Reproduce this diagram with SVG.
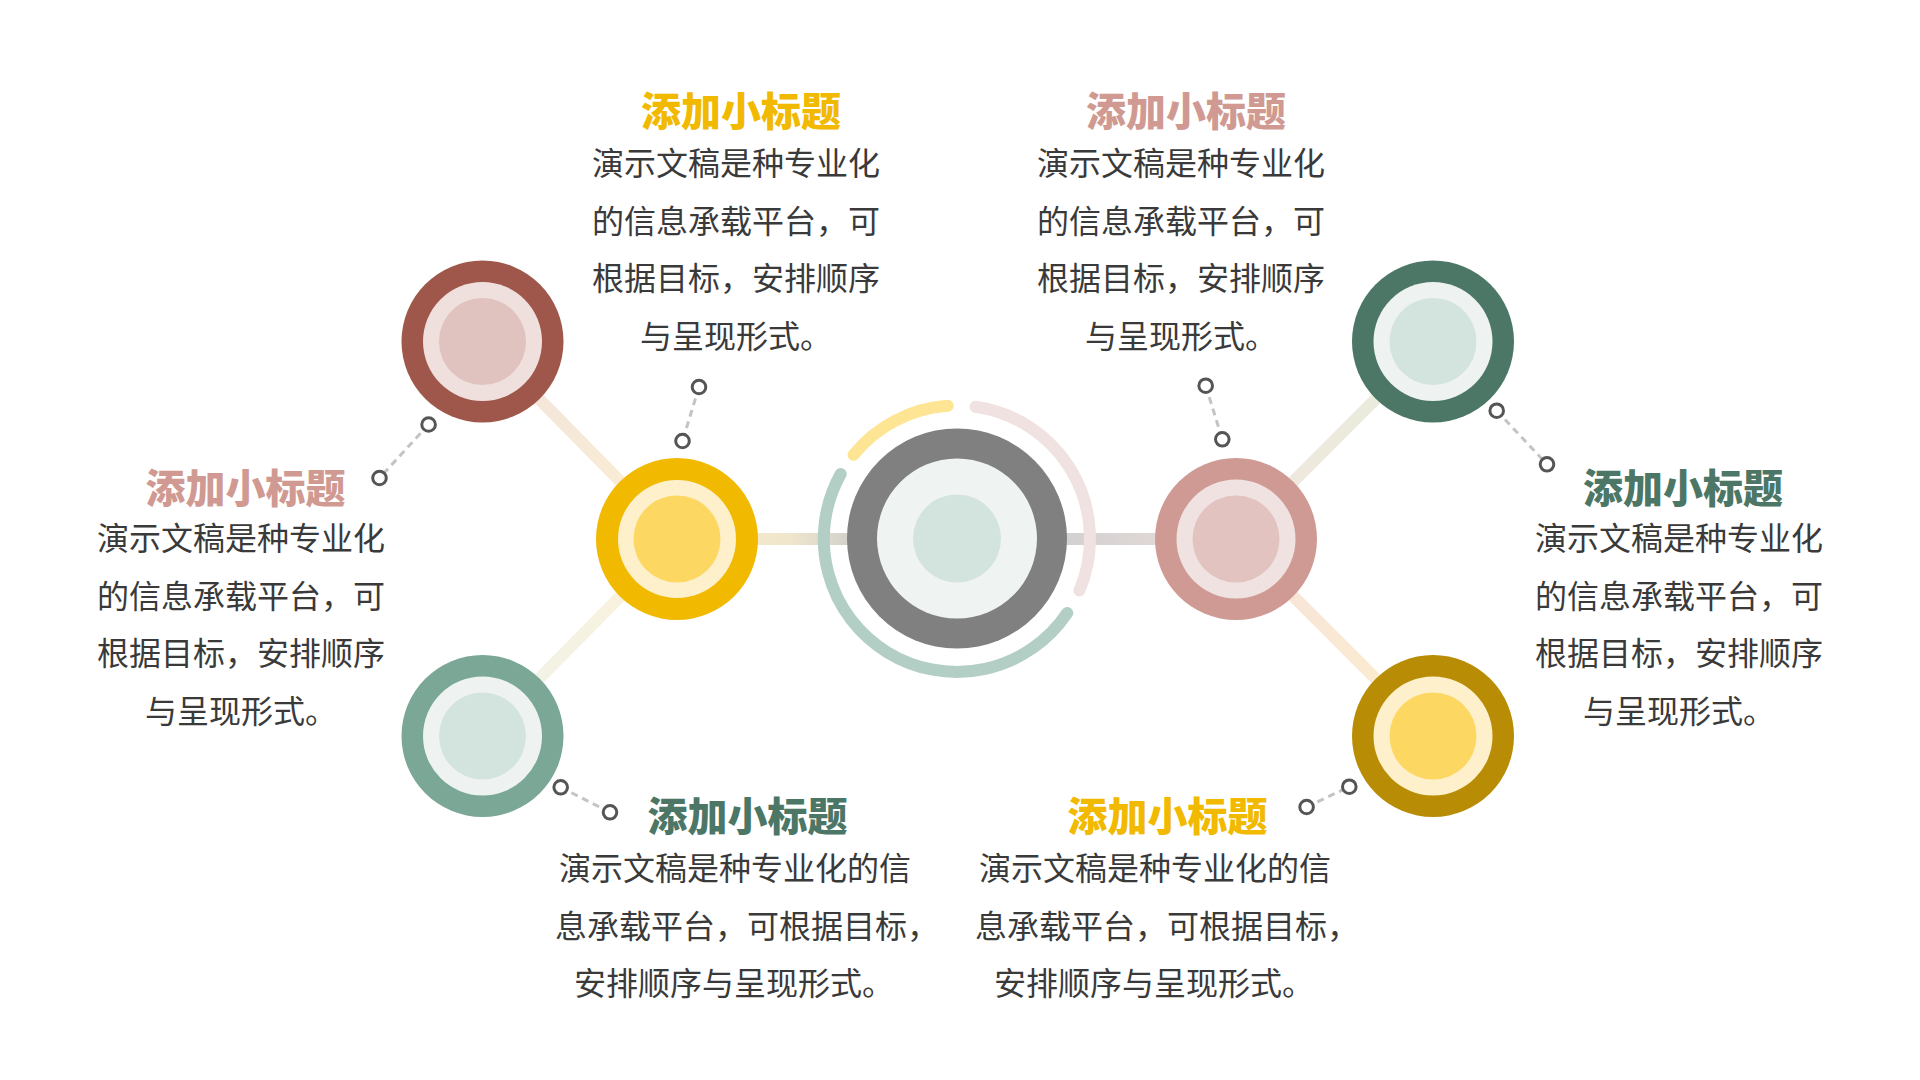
<svg xmlns="http://www.w3.org/2000/svg" width="1920" height="1080" viewBox="0 0 1920 1080">
<style>
.title{font-family:"Noto Sans CJK SC","Noto Sans",sans-serif;font-size:40px;font-weight:900;text-anchor:middle}
.body{font-family:"Noto Sans CJK SC","Noto Sans",sans-serif;font-size:32px;fill:#3a3a3a}
.mid{text-anchor:middle}
.dash{stroke:#c4c4c4;stroke-width:3;stroke-dasharray:7 5;fill:none}
.dot{fill:#ffffff;stroke:#555555;stroke-width:3}
.link{stroke-width:12;fill:none}
.arc{fill:none;stroke-width:12;stroke-linecap:round}
</style>
<defs>
<linearGradient id="gH1" gradientUnits="userSpaceOnUse" x1="700" y1="539" x2="850" y2="539"><stop offset="0" stop-color="#f5ebcd"/><stop offset="0.6" stop-color="#efe6cc"/><stop offset="1" stop-color="#d3d1cc"/></linearGradient>
<linearGradient id="gH2" gradientUnits="userSpaceOnUse" x1="1060" y1="539" x2="1236" y2="539"><stop offset="0" stop-color="#d2d0d0"/><stop offset="1" stop-color="#ebdedc"/></linearGradient>
<linearGradient id="gD1" gradientUnits="userSpaceOnUse" x1="482" y1="341" x2="677" y2="539"><stop offset="0" stop-color="#f0e2dc"/><stop offset="1" stop-color="#fdf0d3"/></linearGradient>
<linearGradient id="gD2" gradientUnits="userSpaceOnUse" x1="677" y1="539" x2="482" y2="736"><stop offset="0" stop-color="#fdf2d8"/><stop offset="1" stop-color="#eef2ec"/></linearGradient>
<linearGradient id="gD3" gradientUnits="userSpaceOnUse" x1="1236" y1="539" x2="1433" y2="341"><stop offset="0" stop-color="#f3e5df"/><stop offset="1" stop-color="#e6eedb"/></linearGradient>
<linearGradient id="gD4" gradientUnits="userSpaceOnUse" x1="1236" y1="539" x2="1433" y2="736"><stop offset="0" stop-color="#f5e2dc"/><stop offset="1" stop-color="#fdeecb"/></linearGradient>
</defs>
<rect x="0" y="0" width="1920" height="1080" fill="#ffffff"/>
<g id="connectors">
<line class="link" x1="482.5" y1="341.5" x2="677" y2="539" stroke="url(#gD1)"/>
<line class="link" x1="677" y1="539" x2="482.5" y2="736" stroke="url(#gD2)"/>
<line class="link" x1="1236" y1="539" x2="1433" y2="341.5" stroke="url(#gD3)"/>
<line class="link" x1="1236" y1="539" x2="1433" y2="736" stroke="url(#gD4)"/>
<line class="link" x1="677" y1="539" x2="957" y2="539" stroke="url(#gH1)"/>
<line class="link" x1="957" y1="539" x2="1236" y2="539" stroke="url(#gH2)"/>
<line class="dash" x1="428.6" y1="424.5" x2="379.5" y2="478"/>
<line class="dash" x1="699" y1="387" x2="682.5" y2="441"/>
<line class="dash" x1="1205.7" y1="385.7" x2="1222.3" y2="439.3"/>
<line class="dash" x1="1496.7" y1="410.7" x2="1547" y2="464.3"/>
<line class="dash" x1="560.7" y1="787.3" x2="610" y2="812.3"/>
<line class="dash" x1="1306.6" y1="807" x2="1349.3" y2="786.7"/>
<circle class="dot" cx="428.6" cy="424.5" r="6.8"/>
<circle class="dot" cx="379.5" cy="478" r="6.8"/>
<circle class="dot" cx="699" cy="387" r="6.8"/>
<circle class="dot" cx="682.5" cy="441" r="6.8"/>
<circle class="dot" cx="1205.7" cy="385.7" r="6.8"/>
<circle class="dot" cx="1222.3" cy="439.3" r="6.8"/>
<circle class="dot" cx="1496.7" cy="410.7" r="6.8"/>
<circle class="dot" cx="1547" cy="464.3" r="6.8"/>
<circle class="dot" cx="560.7" cy="787.3" r="6.8"/>
<circle class="dot" cx="610" cy="812.3" r="6.8"/>
<circle class="dot" cx="1306.6" cy="807" r="6.8"/>
<circle class="dot" cx="1349.3" cy="786.7" r="6.8"/>
</g>
<g id="center">
<path class="arc" stroke="#fde594" d="M853.6 454.8 A133 133 0 0 1 947.7 405.8"/>
<path class="arc" stroke="#efe2e0" d="M975.5 406.8 A133 133 0 0 1 1079.4 590.5"/>
<path class="arc" stroke="#b3cfc5" d="M840.7 474.0 A133 133 0 0 0 1067.3 612.9"/>
<circle cx="957" cy="538.5" r="110" fill="#808080"/>
<circle cx="957" cy="538.5" r="80" fill="#eff4f2"/>
<circle cx="957" cy="538.5" r="44" fill="#d3e3dd"/>
</g>
<g id="node-yellow">
<circle cx="677" cy="539" r="81" fill="#f1b900"/>
<circle cx="677" cy="539" r="59" fill="#fff0cc"/>
<circle cx="677" cy="539" r="43.5" fill="#fcd862"/>
<text class="title" x="741" y="126" fill="#f1b900">添加小标题</text>
<text class="body mid" x="736"><tspan x="736" y="175">演示文稿是种专业化</tspan><tspan x="736" y="232.6">的信息承载平台，可</tspan><tspan x="736" y="290.2">根据目标，安排顺序</tspan><tspan x="736" y="347.8">与呈现形式。</tspan></text>
</g>
<g id="node-rust">
<circle cx="482.5" cy="341.5" r="81" fill="#9e574a"/>
<circle cx="482.5" cy="341.5" r="59.5" fill="#efe0de"/>
<circle cx="482.5" cy="341.5" r="43.5" fill="#e0c2bf"/>
<text class="title" x="245.5" y="502.5" fill="#d09a92">添加小标题</text>
<text class="body mid" x="241"><tspan x="241" y="550">演示文稿是种专业化</tspan><tspan x="241" y="607.6">的信息承载平台，可</tspan><tspan x="241" y="665.2">根据目标，安排顺序</tspan><tspan x="241" y="722.8">与呈现形式。</tspan></text>
</g>
<g id="node-green">
<circle cx="482.5" cy="736" r="81" fill="#7aa796"/>
<circle cx="482.5" cy="736" r="59.5" fill="#eef3f1"/>
<circle cx="482.5" cy="736" r="43.5" fill="#d3e4de"/>
<text class="title" x="747.5" y="831" fill="#4c7766">添加小标题</text>
<text class="body"><tspan x="559" y="880">演示文稿是种专业化的信</tspan><tspan x="555" y="937.6">息承载平台，可根据目标，</tspan><tspan x="574" y="995.2">安排顺序与呈现形式。</tspan></text>
</g>
<g id="node-pink">
<circle cx="1236" cy="539" r="81" fill="#cf9a93"/>
<circle cx="1236" cy="539" r="59.5" fill="#efe2e0"/>
<circle cx="1236" cy="539" r="43.5" fill="#e2c3c0"/>
<text class="title" x="1186" y="126" fill="#d09a92">添加小标题</text>
<text class="body mid" x="1181"><tspan x="1181" y="175">演示文稿是种专业化</tspan><tspan x="1181" y="232.6">的信息承载平台，可</tspan><tspan x="1181" y="290.2">根据目标，安排顺序</tspan><tspan x="1181" y="347.8">与呈现形式。</tspan></text>
</g>
<g id="node-darkgreen">
<circle cx="1433" cy="341.5" r="81" fill="#4c7766"/>
<circle cx="1433" cy="341.5" r="59.5" fill="#eef3f1"/>
<circle cx="1433" cy="341.5" r="43.5" fill="#d3e4de"/>
<text class="title" x="1683" y="502.5" fill="#4c7766">添加小标题</text>
<text class="body mid" x="1679"><tspan x="1679" y="550">演示文稿是种专业化</tspan><tspan x="1679" y="607.6">的信息承载平台，可</tspan><tspan x="1679" y="665.2">根据目标，安排顺序</tspan><tspan x="1679" y="722.8">与呈现形式。</tspan></text>
</g>
<g id="node-gold">
<circle cx="1433" cy="736" r="81" fill="#b88c04"/>
<circle cx="1433" cy="736" r="59.5" fill="#fff0cc"/>
<circle cx="1433" cy="736" r="43.5" fill="#fcd862"/>
<text class="title" x="1167.5" y="831" fill="#f1b900">添加小标题</text>
<text class="body"><tspan x="979" y="880">演示文稿是种专业化的信</tspan><tspan x="975" y="937.6">息承载平台，可根据目标，</tspan><tspan x="994" y="995.2">安排顺序与呈现形式。</tspan></text>
</g>
</svg>
